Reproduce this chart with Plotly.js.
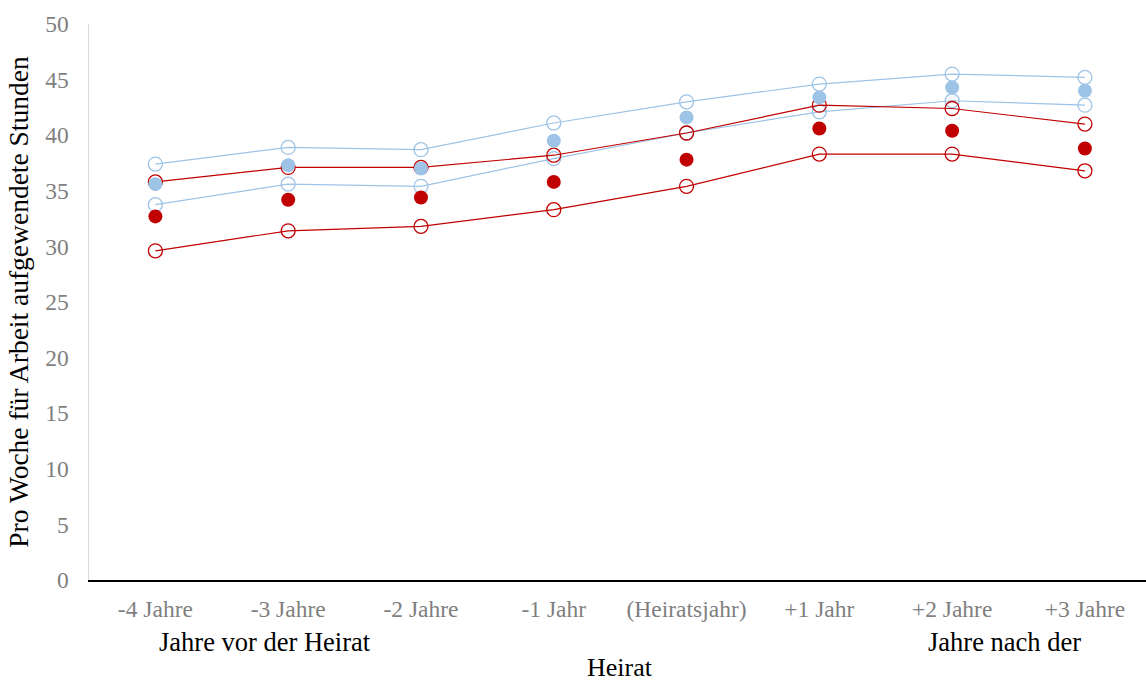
<!DOCTYPE html>
<html>
<head>
<meta charset="utf-8">
<script src="https://cdn.plot.ly/plotly-3.0.1.min.js"></script>
<style>html,body{margin:0;padding:0;background:#fff;}#chart{width:1146px;height:682px;}</style>
</head>
<body>
<div id="chart"></div>
<script>
const categories = ["-4 Jahre", "-3 Jahre", "-2 Jahre", "-1 Jahr", "(Heiratsjahr)", "+1 Jahr", "+2 Jahre", "+3 Jahre"];
const blueUpper = [37.4, 38.9, 38.7, 41.1, 43.0, 44.6, 45.5, 45.2];
const blueMean  = [35.6, 37.3, 37.0, 39.5, 41.6, 43.4, 44.3, 44.0];
const blueLower = [33.75, 35.6, 35.4, 37.9, 40.2, 42.1, 43.1, 42.7];
const redUpper  = [35.8, 37.1, 37.1, 38.2, 40.2, 42.7, 42.4, 41.0];
const redMean   = [32.7, 34.2, 34.4, 35.8, 37.8, 40.6, 40.4, 38.8];
const redLower  = [29.6, 31.4, 31.8, 33.3, 35.4, 38.3, 38.3, 36.8];

const BLUE = '#9DC3E6', RED = '#C00000';
const idx = categories.map((_, i) => i);

function openLine(y, color) {
  return {x: idx, y: y, type: 'scatter', mode: 'lines+markers', hoverinfo: 'y',
    line: {color: color, width: 1.2},
    marker: {symbol: 'circle-open', size: 14, color: color, line: {width: 1.3, color: color}}};
}
function dots(y, color) {
  return {x: idx, y: y, type: 'scatter', mode: 'markers', hoverinfo: 'y',
    marker: {symbol: 'circle', size: 14, color: color}};
}

const data = [
  openLine(blueUpper, BLUE), openLine(blueLower, BLUE),
  openLine(redUpper, RED), openLine(redLower, RED),
  dots(redMean, RED), dots(blueMean, BLUE)
];

const serif = "Liberation Serif";
const layout = {
  width: 1146, height: 682,
  margin: {l: 89, r: 0, t: 24, b: 102},
  paper_bgcolor: '#fff', plot_bgcolor: '#fff',
  showlegend: false,
  font: {family: serif},
  xaxis: {
    range: [-0.5, 7.46], tickvals: idx, ticktext: categories,
    showgrid: false, zeroline: false, ticks: '',
    showline: true, linecolor: '#000', linewidth: 2,
    tickfont: {family: serif, size: 23.5, color: '#7f7f7f'},
    ticklabelstandoff: 7, fixedrange: true
  },
  yaxis: {
    range: [0, 50], dtick: 5, tick0: 0,
    showgrid: false, zeroline: false, ticks: '',
    showline: true, linecolor: '#d9d9d9', linewidth: 1.5,
    tickfont: {family: serif, size: 23.5, color: '#7f7f7f'},
    ticklabelstandoff: 14,
    title: {text: 'Pro Woche für Arbeit aufgewendete Stunden', font: {family: serif, size: 27.5, color: '#000'}, standoff: 8},
    fixedrange: true
  },
  annotations: [
    {text: 'Jahre vor der Heirat', xref: 'paper', yref: 'paper', x: (265-89)/1057, y: -(642-580)/556, xanchor: 'center', yanchor: 'middle', showarrow: false, font: {family: serif, size: 26.5, color: '#000'}},
    {text: 'Jahre nach der', xref: 'paper', yref: 'paper', x: (1004-89)/1057, y: -(642-580)/556, xanchor: 'center', yanchor: 'middle', showarrow: false, font: {family: serif, size: 26.5, color: '#000'}},
    {text: 'Heirat', xref: 'paper', yref: 'paper', x: (620-89)/1057, y: -(681-580)/556, xanchor: 'center', yanchor: 'bottom', borderpad: 0, height: 26, valign: 'middle', showarrow: false, font: {family: serif, size: 26, color: '#000'}}
  ]
};

Plotly.newPlot('chart', data, layout, {displayModeBar: false, staticPlot: true});
</script>
</body>
</html>
